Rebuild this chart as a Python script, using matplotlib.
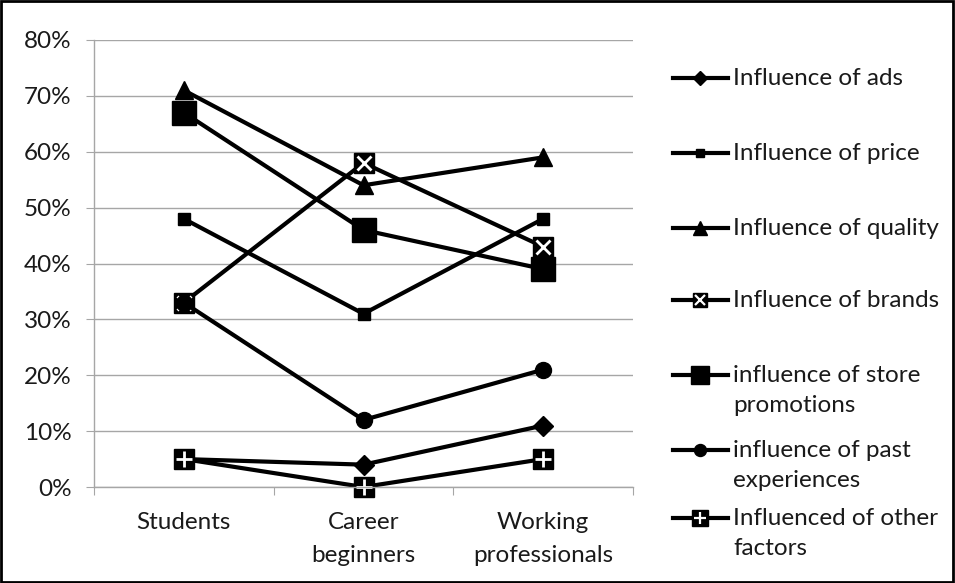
import matplotlib.pyplot as plt
from matplotlib.patches import Rectangle
from matplotlib.ticker import PercentFormatter

plt.rcParams['font.family'] = ['Lato', 'DejaVu Sans']

groups = ["Students", "Career\nbeginners", "Working\nprofessionals"]
ads = [5, 4, 11]
price = [48, 31, 48]
quality = [71, 54, 59]
brands = [33, 58, 43]
store = [67, 46, 39]
past = [33, 12, 21]
other = [5, 0, 5]

labels = ["Influence of ads", "Influence of price", "Influence of quality",
          "Influence of brands", "influence of store\npromotions",
          "influence of past\nexperiences", "Influenced of other\nfactors"]
series = [ads, price, quality, brands, store, past, other]

# marker style per series: (marker, size, overlay marker, overlay size)
styles = [("D", 10, None, 0), ("s", 8, None, 0), ("^", 13, None, 0),
          ("s", 14, "x", 10), ("s", 17, None, 0), ("o", 11.5, None, 0),
          ("s", 15, "+", 12)]

TXT = "#1a1a1a"
GRID = "#a6a6a6"
FS = 17.5

fig = plt.figure(figsize=(9.55, 5.83), dpi=100)
ax = fig.add_axes([94 / 955, 1 - 487 / 583, (633 - 94) / 955, (487 - 40) / 583])

x = range(len(groups))
for vals, (m, ms, om, oms) in zip(series, styles):
    ax.plot(x, vals, color="black", lw=3, marker=m, ms=ms,
            mfc="black", mec="black", solid_joinstyle="miter", clip_on=False)
    if om:
        ax.plot(x, vals, ls="none", marker=om, ms=oms, mec="white",
                mew=2, clip_on=False)

ax.set_xlim(-0.5, 2.5)
ax.set_ylim(0, 80)
ax.set_yticks(range(0, 81, 10))
ax.yaxis.set_major_formatter(PercentFormatter(decimals=0))
ax.yaxis.grid(True, color=GRID, lw=1)
ax.set_axisbelow(True)

ax.set_xticks([-0.5, 0.5, 1.5, 2.5])
ax.set_xticklabels([])
ax.set_xticks(list(x), minor=True)
ax.set_xticklabels(groups, minor=True, fontsize=FS, color=TXT, linespacing=1.7)
ax.tick_params(axis="x", which="minor", length=0, pad=18)
ax.tick_params(axis="x", which="major", length=6, color=GRID, direction="out")
ax.tick_params(axis="y", length=6, color=GRID, direction="out", pad=10,
               labelsize=FS, labelcolor=TXT)
for s in ["top", "right"]:
    ax.spines[s].set_visible(False)
for s in ["left", "bottom"]:
    ax.spines[s].set_color(GRID)
    ax.spines[s].set_linewidth(1)

# legend drawn in pixel coordinates
lax = fig.add_axes([0, 0, 1, 1])
lax.set_xlim(0, 955)
lax.set_ylim(583, 0)
lax.axis("off")
leg_y = [78, 153, 228, 300, 375, 450, 518]
k = 0.75
for ly, lab, (m, ms, om, oms) in zip(leg_y, labels, styles):
    lax.plot([673, 728], [ly, ly], color="black", lw=3)
    lax.plot([700], [ly], marker=m, ms=ms * k, color="black", ls="none")
    if om:
        lax.plot([700], [ly], marker=om, ms=oms * k, mec="white", mew=1.6,
                 ls="none")
    lax.text(733, ly - 10, lab, fontsize=FS, color=TXT, va="top", ha="left",
             linespacing=1.52)

fig.add_artist(Rectangle((0.001, 0.001), 0.997, 0.997, transform=fig.transFigure,
                         fill=False, ec="black", lw=2))

fig.savefig("out.png", dpi=100)
